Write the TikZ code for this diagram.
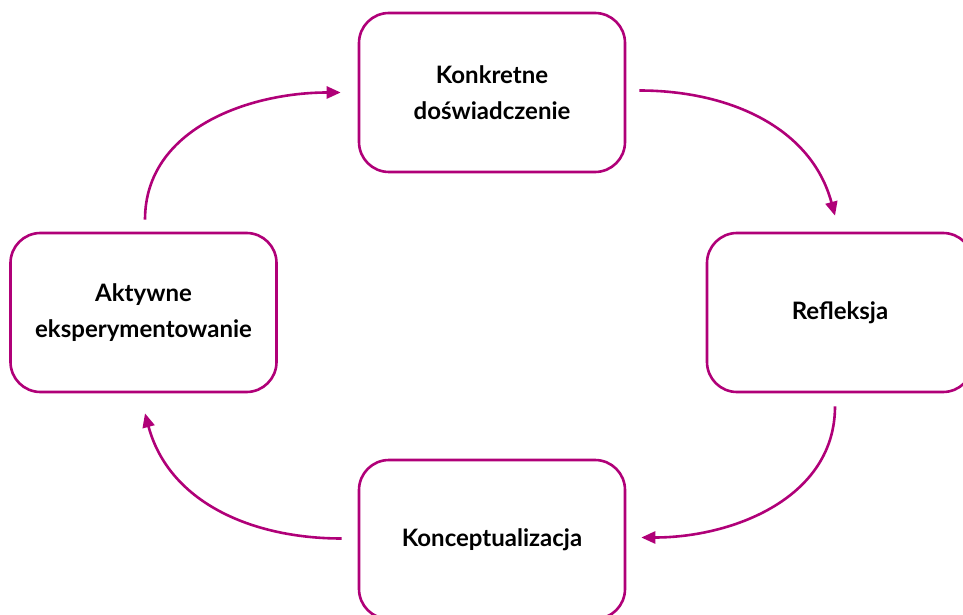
\documentclass[tikz,border=0pt]{standalone}
\usepackage{fontspec}
\setmainfont{Lato}
\usetikzlibrary{arrows.meta}

\definecolor{plum}{RGB}{176,0,120}

\begin{document}
\begin{tikzpicture}[x=1pt, y=1pt,
  box/.style={draw=plum, line width=2.6pt, rounded corners=30pt, fill=white,
    minimum width=266pt, minimum height=159pt, align=center,
    font=\fontsize{24}{36}\selectfont\bfseries},
  arr/.style={draw=plum, line width=2.6pt, -{Triangle[length=14pt,width=12pt]}}]
\useasboundingbox (0,0) rectangle (963,614);

\node[box] (K) at (492,521.5) {Konkretne\\doświadczenie};
\node[box] (R) at (840,301.5) {Refleksja};
\node[box] (C) at (492,74.5)  {Konceptualizacja};
\node[box] (A) at (143.5,301.5) {Aktywne\\eksperymentowanie};

\draw[arr] ([xshift=13pt,yshift=2pt]K.east) to[out=0, in=105] ([xshift=-5pt,yshift=16pt]R.north);
\draw[arr] ([xshift=-5pt,yshift=-13pt]R.south) to[out=-90, in=0] ([xshift=15pt,yshift=2pt]C.east);
\draw[arr] ([xshift=-16pt,yshift=1pt]C.west) to[out=180, in=-75] ([xshift=1.5pt,yshift=-20pt]A.south);
\draw[arr] ([xshift=1.5pt,yshift=12pt]A.north) to[out=90, in=180] ([xshift=-17pt]K.west);
\end{tikzpicture}
\end{document}
